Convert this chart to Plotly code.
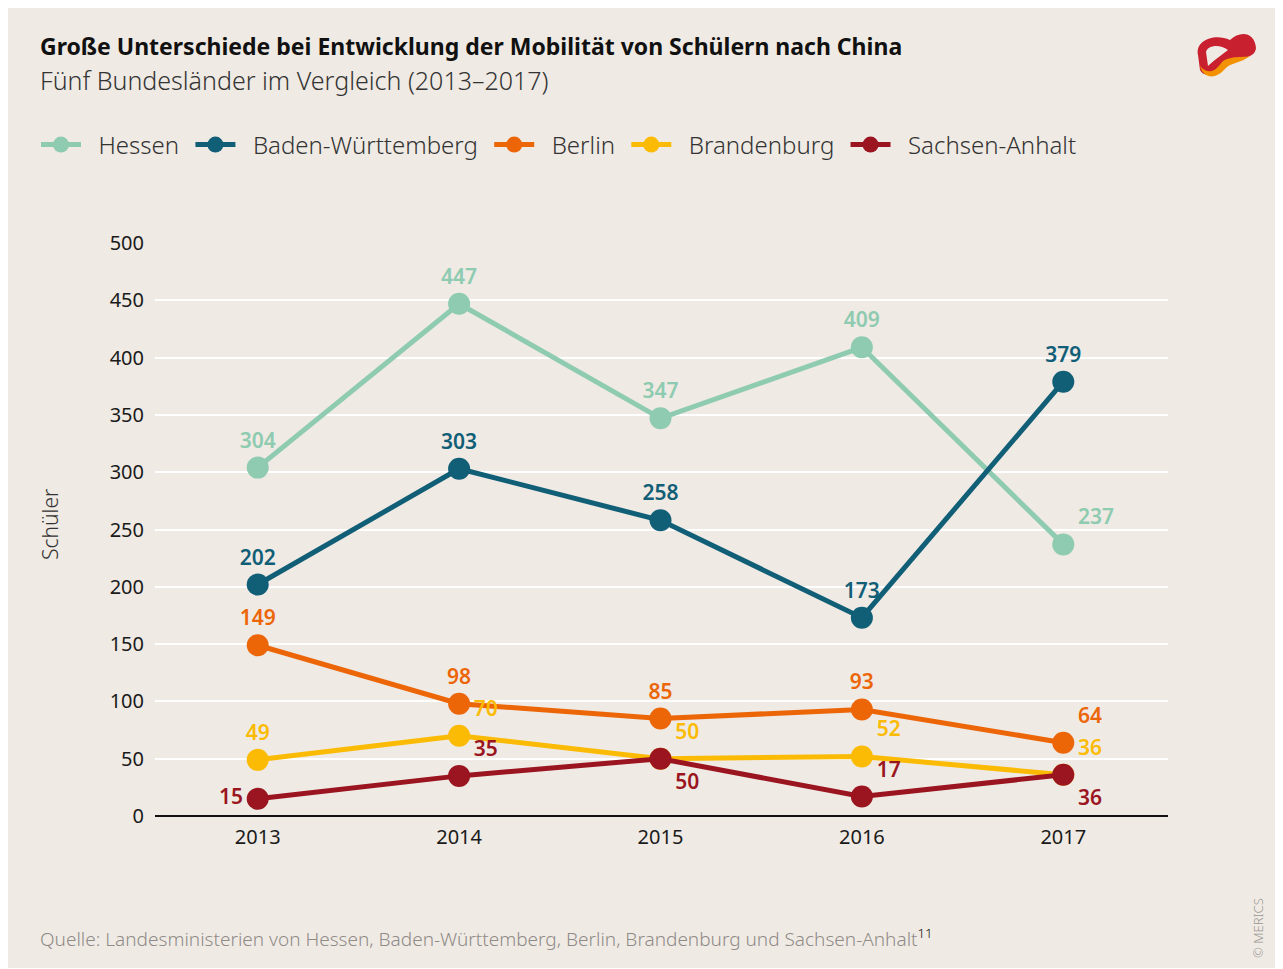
import plotly.graph_objects as go

years = ["2013", "2014", "2015", "2016", "2017"]

hessen = [304, 447, 347, 409, 237]
baden_wuerttemberg = [202, 303, 258, 173, 379]
berlin = [149, 98, 85, 93, 64]
brandenburg = [49, 70, 50, 52, 36]
sachsen_anhalt = [15, 35, 50, 17, 36]

y_ticks = [0, 50, 100, 150, 200, 250, 300, 350, 400, 450, 500]

series = [
    ("Hessen", hessen, "#8ecbb0",
     ["top center", "top center", "top center", "top center", "top right"]),
    ("Baden-Württemberg", baden_wuerttemberg, "#115e77",
     ["top center", "top center", "top center", "top center", "top center"]),
    ("Berlin", berlin, "#ec6608",
     ["top center", "top center", "top center", "top center", "top right"]),
    ("Brandenburg", brandenburg, "#fbbb05",
     ["top center", "top right", "top right", "top right", "top right"]),
    ("Sachsen-Anhalt", sachsen_anhalt, "#9a1520",
     ["middle left", "top right", "bottom right", "top right", "bottom right"]),
]

BG = "#efeae4"
FONT = "Noto Sans"
NB = "\u00a0"

# page puts the figure 8px in from the corner, so work in screen pixels minus 8
OFF = 8
W, H = 1271, 960
L, R, T, B = 155 - OFF, 1168 - OFF, 243 - OFF, 816 - OFF


def px(x):
    return (x - OFF - L) / (R - L)


def py(y):
    return (B - (y - OFF)) / (B - T)


fig = go.Figure()
for name, vals, color, pos in series:
    fig.add_trace(go.Scatter(
        x=years, y=vals, name=NB * 2 + name + NB,
        mode="lines+markers+text",
        line=dict(color=color, width=5),
        marker=dict(color=color, size=22),
        text=[str(v) for v in vals],
        textposition=pos,
        textfont=dict(family=FONT, size=21, color=color, weight=600),
        cliponaxis=False,
    ))

fig.update_layout(
    width=W, height=H,
    margin=dict(l=L, r=W - R, t=T, b=H - B),
    paper_bgcolor=BG,
    plot_bgcolor=BG,
    font=dict(family=FONT, color="#1a1a1a"),
    showlegend=True,
    legend=dict(
        orientation="h", x=px(36), y=py(145), xanchor="left", yanchor="middle",
        font=dict(size=24, color="#333333", weight=300),
        bgcolor="rgba(0,0,0,0)", itemwidth=40, tracegroupgap=0,
    ),
    xaxis=dict(
        range=[-0.51, 4.52], showgrid=False, showline=False, zeroline=False,
        ticks="", ticklabelstandoff=7, tickfont=dict(size=20, color="#1a1a1a"),
    ),
    yaxis=dict(
        range=[0, 500], tickvals=y_ticks, showgrid=True, gridcolor="white",
        gridwidth=2, zeroline=True, zerolinecolor="#111111", zerolinewidth=2,
        showline=False, ticks="", ticklabelstandoff=10,
        tickfont=dict(size=20, color="#1a1a1a"),
    ),
    annotations=[
        dict(text="<b>Große Unterschiede bei Entwicklung der Mobilität von Schülern nach China</b>",
             xref="paper", yref="paper", x=px(38), y=py(46), xanchor="left", yanchor="middle",
             showarrow=False, font=dict(size=23, color="#111111")),
        dict(text="Fünf Bundesländer im Vergleich (2013–2017)",
             xref="paper", yref="paper", x=px(38), y=py(80), xanchor="left", yanchor="middle",
             showarrow=False, font=dict(size=25, color="#333333", weight=300)),
        dict(text="Schüler", textangle=-90,
             xref="paper", yref="paper", x=px(50), y=py(525), xanchor="center", yanchor="middle",
             showarrow=False, font=dict(size=21, color="#333333", weight=300)),
        dict(text="Quelle: Landesministerien von Hessen, Baden-Württemberg, Berlin, Brandenburg und Sachsen-Anhalt"
                  "<sup><span style='color:#111111'>11</span></sup>",
             xref="paper", yref="paper", x=px(38), y=py(938), xanchor="left", yanchor="middle",
             showarrow=False, font=dict(size=19, color="#8f8b87", weight=300)),
        dict(text="© MERICS", textangle=-90,
             xref="paper", yref="paper", x=px(1258), y=py(928), xanchor="center", yanchor="middle",
             showarrow=False, font=dict(size=13, color="#9a9691", weight=300)),
    ],
)

# rough logo
fig.add_shape(type="path", xref="paper", yref="paper", layer="above",
              path=(f"M {px(1198)},{py(55)} C {px(1195)},{py(40)} {px(1215)},{py(33)} {px(1230)},{py(40)} "
                    f"C {px(1240)},{py(30)} {px(1255)},{py(32)} {px(1256)},{py(48)} "
                    f"C {px(1255)},{py(60)} {px(1235)},{py(58)} {px(1225)},{py(62)} "
                    f"C {px(1218)},{py(72)} {px(1205)},{py(80)} {px(1200)},{py(70)} Z"),
              fillcolor="#c8202f", line=dict(width=0))
fig.add_shape(type="path", xref="paper", yref="paper", layer="above",
              path=(f"M {px(1200)},{py(66)} C {px(1208)},{py(75)} {px(1215)},{py(72)} {px(1222)},{py(62)} "
                    f"C {px(1230)},{py(55)} {px(1245)},{py(58)} {px(1250)},{py(56)} "
                    f"C {px(1240)},{py(64)} {px(1230)},{py(62)} {px(1224)},{py(70)} "
                    f"C {px(1215)},{py(80)} {px(1203)},{py(78)} {px(1200)},{py(66)} Z"),
              fillcolor="#f39200", line=dict(width=0))
fig.add_shape(type="path", xref="paper", yref="paper", layer="above",
              path=(f"M {px(1206)},{py(52)} C {px(1208)},{py(45)} {px(1220)},{py(44)} {px(1228)},{py(50)} "
                    f"C {px(1220)},{py(56)} {px(1212)},{py(62)} {px(1208)},{py(66)} Z"),
              fillcolor=BG, line=dict(width=0))

fig.write_html("out.html")
